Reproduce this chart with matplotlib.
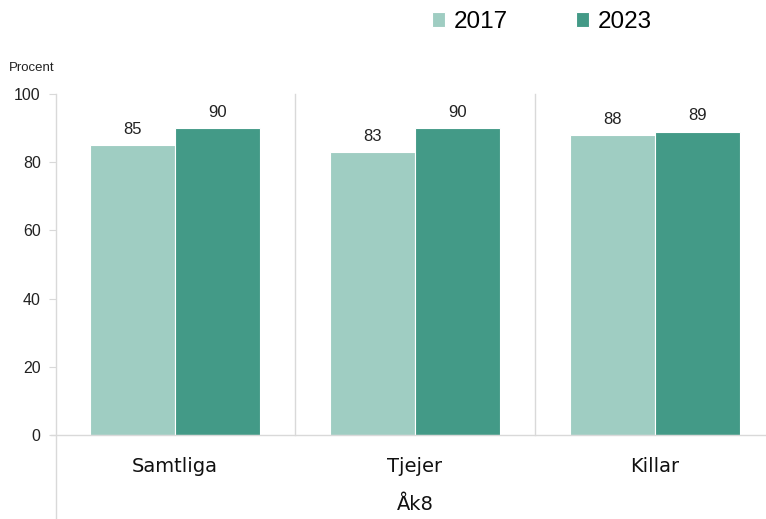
import matplotlib
matplotlib.use("Agg")
import matplotlib.pyplot as plt
import numpy as np

plt.rcParams['font.family'] = ['Liberation Sans', 'DejaVu Sans']

categories = ["Samtliga", "Tjejer", "Killar"]
group_label = "Åk8"
series_names = ["2017", "2023"]
values_2017 = [85, 83, 88]
values_2023 = [90, 90, 89]
colors = ["#9FCDC2", "#439A87"]
yticks = [0, 20, 40, 60, 80, 100]

W, H = 766, 519
fig = plt.figure(figsize=(W / 100, H / 100), dpi=100)
left, right, top, bottom = 56, 766, 94, 435
ax = fig.add_axes([left / W, 1 - bottom / H, (right - left) / W, (bottom - top) / H])

x = np.arange(len(categories))
bw = 85 / 240
b1 = ax.bar(x - bw / 2, values_2017, width=bw, color=colors[0], edgecolor="white", linewidth=0.8, label=series_names[0])
b2 = ax.bar(x + bw / 2, values_2023, width=bw, color=colors[1], edgecolor="white", linewidth=0.8, label=series_names[1])
for bars in (b1, b2):
    ax.bar_label(bars, padding=6, fontsize=12, color="#222222")

x0 = -0.5 + 1 / 240
ax.set_xlim(x0, x0 + (right - left) / 240)
ax.set_ylim(0, 100)
ax.set_yticks(yticks)
ax.tick_params(axis="y", length=5, color="#D9D9D9", labelsize=11.5, pad=6, labelcolor="#222222")
ax.set_xticks([])
for s in ["top", "right", "bottom", "left"]:
    ax.spines[s].set_visible(False)

tr = ax.get_xaxis_transform()
ext = -(H - bottom) / (bottom - top)
ax.plot([x0, x0], [ext, 1], transform=tr, color="#D9D9D9", lw=1, clip_on=False)
for sep in [0.5, 1.5]:
    ax.plot([sep, sep], [0, 1], transform=tr, color="#D9D9D9", lw=1, clip_on=False)
ax.plot([x0 - 0.02, ax.get_xlim()[1]], [0, 0], transform=tr, color="#D9D9D9", lw=1, clip_on=False)

for i, c in enumerate(categories):
    ax.text(i, -(467 - bottom) / (bottom - top), c, transform=tr,
            ha="center", va="center", fontsize=14, color="#111111", family="DejaVu Sans")
ax.text(1, -(505 - bottom) / (bottom - top), group_label, transform=tr,
        ha="center", va="center", fontsize=14, color="#111111", family="DejaVu Sans")

fig.text(9 / W, 1 - 68 / H, "Procent", ha="left", va="center", fontsize=9.5, color="#222222")

leg = fig.legend(handles=[b1, b2], labels=series_names, loc="center left",
                 bbox_to_anchor=(432 / W, 1 - 22 / H), ncol=2, frameon=False,
                 fontsize=17.5, handlelength=0.55, handleheight=0.55, handletextpad=0.35,
                 columnspacing=2.8, borderaxespad=0, borderpad=0)

fig.savefig("out.png", dpi=100)
